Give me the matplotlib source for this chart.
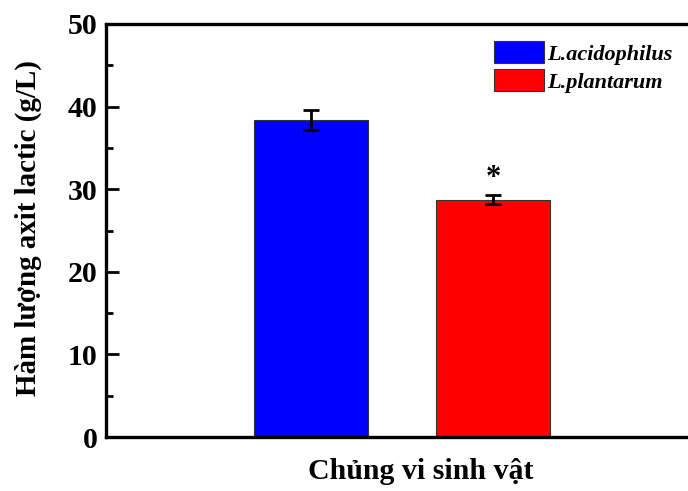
"""Bar chart: lactic acid content of two Lactobacillus strains."""

import matplotlib

matplotlib.use("Agg")
import matplotlib.pyplot as plt
from matplotlib.patches import Patch
from matplotlib.ticker import MultipleLocator

strains = ["L.acidophilus", "L.plantarum"]
lactic = [38.4, 28.75]
lactic_err = [1.2, 0.5]
colours = ["#0000ff", "#ff0000"]
marks = ["", "*"]

plt.rcParams["font.family"] = ["Liberation Serif", "DejaVu Serif"]
plt.rcParams["font.weight"] = "bold"

fig = plt.figure(figsize=(6.88, 4.91), dpi=100)
ax = fig.add_axes([106 / 688, 54 / 491, 630 / 688, 413 / 491])

xpos = [1, 2]
ax.bar(xpos, lactic, width=0.626, color=colours, edgecolor="#333333", linewidth=0.8, zorder=2)
ax.errorbar(xpos, lactic, yerr=lactic_err, fmt="none", ecolor="black",
            elinewidth=2.0, capsize=5.5, capthick=2.0, zorder=3)
for x, y, e, m in zip(xpos, lactic, lactic_err, marks):
    if m:
        ax.text(x, y + e + 0.3, m, ha="center", va="bottom", fontsize=22, fontweight="bold")

ax.set_xlim(-0.126, 3.335)
ax.set_ylim(0, 50)
ax.yaxis.set_major_locator(MultipleLocator(10))
ax.yaxis.set_minor_locator(MultipleLocator(5))
ax.set_xticks([])
ax.tick_params(axis="y", which="major", direction="in", length=9, width=2, labelsize=21.5, pad=6)
ax.tick_params(axis="y", which="minor", direction="in", length=5, width=2)
for lbl in ax.get_yticklabels():
    lbl.set_fontweight("bold")
for spine in ax.spines.values():
    spine.set_linewidth(2.4)

ax.set_ylabel("Hàm lượng axit lactic (g/L)", fontsize=20.9, fontweight="bold", va="center")
ax.yaxis.set_label_coords(-0.124, 0.505)
ax.set_xlabel("Chủng vi sinh vật", fontsize=21.5, fontweight="bold", va="center")
ax.xaxis.set_label_coords(0.5, -0.083)

handles = [Patch(facecolor=c, edgecolor="#333333", linewidth=0.8) for c in colours]
fig.legend(handles, strains, loc="upper left", bbox_to_anchor=(494 / 688, 1 - 41 / 491),
           frameon=False, borderpad=0, borderaxespad=0, handlelength=2.25, handleheight=1.15,
           handletextpad=0.15, labelspacing=0.2,
           prop={"family": "Liberation Serif", "style": "italic", "weight": "bold", "size": 16})

fig.savefig("out.png", dpi=100)
